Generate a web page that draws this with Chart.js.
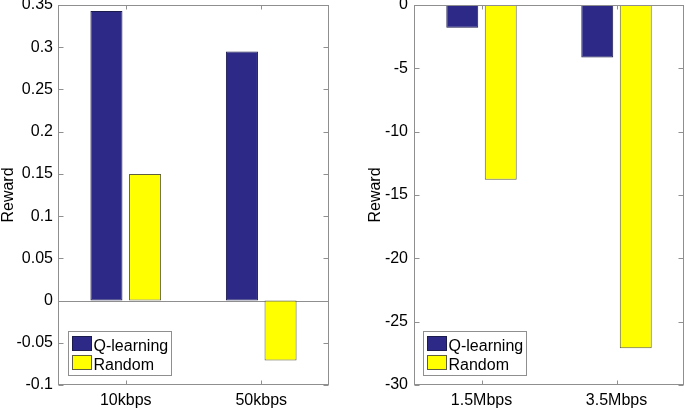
<!DOCTYPE html>
<html>
<head>
<meta charset="utf-8">
<script src="https://cdn.jsdelivr.net/npm/chart.js@4.4.1/dist/chart.umd.min.js"></script>
<style>
  html, body { margin: 0; padding: 0; background: #fff; }
  #wrap { position: relative; width: 685px; height: 409px; overflow: hidden; }
  canvas { position: absolute; top: 0; }
</style>
</head>
<body>
<div id="wrap">
  <canvas id="leftChart" width="342" height="409" style="left:0"></canvas>
  <canvas id="rightChart" width="343" height="409" style="left:342px"></canvas>
</div>
<script>
// left panel: low bitrates
const categoriesLeft = ['10kbps', '50kbps'];
const qLearningLeft = [0.343, 0.295];
const randomLeft = [0.15, -0.071];
const ticksLeft = [-0.1, -0.05, 0, 0.05, 0.1, 0.15, 0.2, 0.25, 0.3, 0.35];

// right panel: high bitrates
const categoriesRight = ['1.5Mbps', '3.5Mbps'];
const qLearningRight = [-1.8, -4.15];
const randomRight = [-13.8, -27.1];
const ticksRight = [-30, -25, -20, -15, -10, -5, 0];

const FONT = '"Liberation Sans", Arial, sans-serif';
const BOX = '#8f8f8f';

// MATLAB style frame: box, inward ticks, zero baseline and legend
const matlabFrame = {
  id: 'matlabFrame',
  beforeDatasetsDraw(chart) {
    const { ctx, chartArea: ca, scales: { y } } = chart;
    const y0 = y.getPixelForValue(0);
    ctx.save();
    ctx.strokeStyle = BOX;
    ctx.lineWidth = 1;
    ctx.beginPath();
    ctx.moveTo(ca.left, Math.round(y0) + 0.5);
    ctx.lineTo(ca.right, Math.round(y0) + 0.5);
    ctx.stroke();
    ctx.restore();
  },
  afterDatasetsDraw(chart, args, opts) {
    const { ctx, chartArea: ca, scales: { x, y } } = chart;
    ctx.save();
    ctx.strokeStyle = BOX;
    ctx.lineWidth = 1;
    const l = Math.round(ca.left) + 0.5, r = Math.round(ca.right) - 0.5;
    const t = Math.round(ca.top) + 0.5, b = Math.round(ca.bottom) - 0.5;
    ctx.strokeRect(l, t, r - l, b - t);
    ctx.beginPath();
    y.ticks.forEach(tk => {
      const py = Math.round(y.getPixelForValue(tk.value)) + 0.5;
      ctx.moveTo(l, py); ctx.lineTo(l + 5, py);
      ctx.moveTo(r, py); ctx.lineTo(r - 5, py);
    });
    x.ticks.forEach((tk, i) => {
      const px = Math.round(x.getPixelForTick(i)) + 0.5;
      ctx.moveTo(px, b); ctx.lineTo(px, b - 4);
      ctx.moveTo(px, t); ctx.lineTo(px, t + 4);
    });
    ctx.stroke();

    // legend
    const bx = Math.round(ca.left + opts.legendOffset) + 0.5;
    const by = Math.round(ca.bottom - 10 - 44) + 0.5;
    ctx.fillStyle = '#fff';
    ctx.fillRect(bx, by, 103, 44);
    ctx.strokeStyle = BOX;
    ctx.strokeRect(bx, by, 103, 44);
    ctx.font = '16px ' + FONT;
    ctx.textBaseline = 'alphabetic';
    ctx.textAlign = 'left';
    chart.data.datasets.forEach((ds, i) => {
      const sy = by + 5 + i * 19;
      ctx.fillStyle = ds.backgroundColor;
      ctx.fillRect(bx + 4, sy, 19, 14);
      ctx.strokeStyle = ds.borderColor;
      ctx.strokeRect(bx + 4, sy, 19, 14);
      ctx.fillStyle = '#000';
      ctx.fillText(ds.label, bx + 25, by + 19.5 + i * 19);
    });
    ctx.restore();
  }
};

function makeChart(id, labels, qData, rData, ticks, cfg) {
  return new Chart(document.getElementById(id), {
    type: 'bar',
    data: {
      labels: labels,
      datasets: [
        {
          label: 'Q-learning',
          data: qData,
          backgroundColor: '#2c2a86',
          borderColor: '#1c1b4e',
          borderWidth: 1,
          borderSkipped: false,
          categoryPercentage: 0.57,
          barPercentage: 0.83,
        },
        {
          label: 'Random',
          data: rData,
          backgroundColor: '#ffff00',
          borderColor: '#5e5e40',
          borderWidth: 1,
          borderSkipped: false,
          categoryPercentage: 0.57,
          barPercentage: 0.83,
        },
      ],
    },
    options: {
      responsive: false,
      animation: false,
      devicePixelRatio: 1,
      layout: { padding: cfg.padding },
      scales: {
        x: {
          grid: { display: false },
          border: { display: false },
          ticks: { color: '#000', font: { size: 16, family: FONT }, padding: -2 },
          afterFit(scale) {
            scale.height = 24;
            scale.paddingLeft = 0;
            scale.paddingRight = 0;
          },
        },
        y: {
          min: ticks[0],
          max: ticks[ticks.length - 1],
          grid: { display: false, drawTicks: false },
          border: { display: false },
          afterBuildTicks(scale) {
            scale.ticks = ticks.map(v => ({ value: v }));
          },
          ticks: {
            color: '#000',
            font: { size: 16, family: FONT },
            padding: cfg.tickPad,
            callback: v => String(v),
          },
          title: {
            display: true,
            text: 'Reward',
            color: '#000',
            font: { size: 16, family: FONT },
            padding: { top: 0, bottom: 0 },
          },
          afterFit(scale) {
            scale.width = cfg.yWidth;
            scale.paddingTop = 0;
            scale.paddingBottom = 0;
          },
        },
      },
      plugins: {
        legend: { display: false },
        tooltip: { enabled: false },
        matlabFrame: { legendOffset: cfg.legendOffset },
      },
    },
    plugins: [matlabFrame],
  });
}

makeChart('leftChart', categoriesLeft, qLearningLeft, randomLeft, ticksLeft, {
  padding: { left: -1, right: 13, top: 5, bottom: 0 },
  yWidth: 59,
  tickPad: 5,
  legendOffset: 10,
});

makeChart('rightChart', categoriesRight, qLearningRight, randomRight, ticksRight, {
  padding: { left: 24, right: 1, top: 5, bottom: 0 },
  yWidth: 48,
  tickPad: 6,
  legendOffset: 9,
});
</script>
</body>
</html>
